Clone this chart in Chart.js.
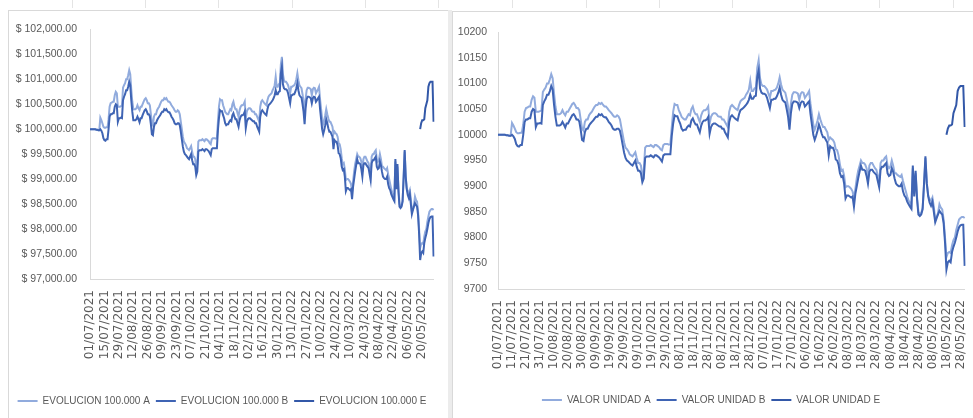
<!DOCTYPE html>
<html>
<head>
<meta charset="utf-8">
<script src="https://cdn.jsdelivr.net/npm/chart.js@4.4.0/dist/chart.umd.min.js"></script>
<style>
html, body { margin: 0; padding: 0; background: #fff; width: 973px; height: 418px; overflow: hidden; position: relative; }
.cell { position: absolute; top: 0; width: 1px; height: 8px; background: #e4e4e4; }
.box { position: absolute; border: 1px solid #d9d9d9; background: #fff; box-sizing: border-box; }
.shade { position: absolute; left: 448px; top: 10px; width: 4px; height: 408px; background: #ececec; }
canvas { position: absolute; }
</style>
</head>
<body>
<div id="cells"></div>
<div class="box" style="left:8px;top:10px;width:441px;height:420px"></div>
<div class="shade"></div>
<div class="box" style="left:452px;top:11px;width:540px;height:420px"></div>
<canvas id="leftChart" width="440" height="408" style="left:8px;top:10px"></canvas>
<canvas id="rightChart" width="534" height="407" style="left:452px;top:11px"></canvas>
<script>
// Daily dates 01/07/2021 .. 31/05/2022 (one day missing in early April in the source)
const startDate = new Date(2021, 6, 1);
const endDate = new Date(2022, 4, 31);
const missingDate = '02/04/2022';

// unit value, fund A (light)
const valorUnidadA = [
  10000,10000,10000,10000,10000,10000,9999,9999,9998,9998,
  10023,10018,10012,10005,10003,10003,10004,10004,10020,10045,
  10052,10053,10055,10055,10068,10075,10072,10045,10045,10045,
  10046,10047,10083,10088,10092,10100,10100,10108,10118,10110,
  10080,10055,10040,10040,10040,10042,10048,10042,10038,10045,
  10045,10050,10055,10060,10062,10058,10052,10052,10048,10030,
  10012,10008,10025,10030,10030,10038,10042,10045,10050,10055,
  10058,10058,10062,10060,10062,10058,10055,10055,10052,10048,
  10045,10042,10038,10035,10035,10038,10036,10030,10015,10000,
  9985,9975,9972,9968,9962,9960,9958,9962,9966,9955,
  9945,9945,9940,9920,9930,9975,9978,9978,9978,9980,
  9978,9976,9980,9980,9978,9976,9972,9970,9980,9982,
  9982,9982,9981,9982,10015,10045,10060,10058,10058,10048,
  10042,10035,10032,10030,10030,10035,10040,10038,10050,10055,
  10045,10040,10040,10032,10025,10038,10045,10048,10048,10050,
  10055,10022,10035,10040,10042,10042,10040,10036,10035,10035,
  10030,10030,10025,10020,10015,10045,10055,10058,10055,10052,
  10050,10048,10058,10065,10068,10070,10072,10078,10082,10088,
  10105,10085,10085,10090,10092,10130,10145,10110,10098,10095,
  10095,10092,10088,10080,10072,10085,10085,10087,10088,10092,
  10100,10112,10098,10088,10085,10082,10070,10055,10030,10060,
  10078,10083,10083,10082,10080,10068,10080,10083,10082,10072,
  10076,10080,10085,10060,10040,10020,10010,10018,10028,10040,
  10030,10022,10015,10015,10010,10005,9990,9995,9992,9990,
  9985,9972,9970,9960,9942,9930,9932,9920,9898,9900,
  9900,9898,9895,9890,9875,9895,9915,9930,9940,9950,
  9945,9945,9942,9935,9915,9940,9945,9945,9940,9935,
  9932,9920,9908,9945,9950,9950,9955,9958,9940,9935,
  9938,9950,9940,9925,9925,9922,9920,9918,9922,9910,
  9900,9890,9880,9872,9868,9862,9935,9885,9925,9880,
  9850,9845,9848,9858,9900,9955,9905,9882,9875,9872,
  9878,9860,9835,9840,9848,9865,9858,9855,9835,9800,
  9762,9770,9772,9770,9785,9795,9800,9815,9825,9835,
  9838,9840,9840,9838
];

// unit value, fund B (dark)
const valorUnidadB = [
  10000,10000,10000,10000,10000,10000,9999,9999,9998,9998,
  10000,9997,9992,9982,9978,9977,9980,9980,10000,10025,
  10030,10030,10032,10032,10045,10050,10048,10015,10022,10022,
  10023,10022,10058,10065,10070,10078,10078,10085,10095,10088,
  10058,10035,10018,10018,10018,10020,10025,10020,10014,10022,
  10022,10028,10033,10038,10040,10036,10030,10030,10026,10010,
  9990,9988,10005,10012,10012,10018,10022,10025,10028,10032,
  10035,10035,10040,10038,10040,10036,10034,10034,10030,10025,
  10022,10018,10012,10010,10010,10012,10012,10008,9995,9980,
  9965,9955,9950,9948,9945,9942,9940,9945,9950,9938,
  9930,9930,9925,9908,9915,9955,9958,9958,9958,9960,
  9958,9956,9960,9960,9958,9956,9952,9948,9960,9962,
  9962,9962,9962,9962,9998,10022,10038,10036,10036,10028,
  10022,10012,10008,10010,10010,10015,10018,10016,10028,10032,
  10025,10020,10020,10012,10005,10018,10025,10028,10028,10030,
  10035,10002,10015,10020,10022,10022,10020,10018,10016,10016,
  10012,10012,10005,10000,9995,10025,10035,10038,10035,10032,
  10030,10028,10040,10048,10050,10052,10055,10058,10062,10068,
  10078,10070,10070,10075,10076,10112,10125,10090,10082,10080,
  10080,10078,10072,10062,10052,10068,10068,10070,10070,10075,
  10082,10092,10078,10068,10065,10063,10050,10035,10010,10042,
  10060,10065,10065,10064,10062,10052,10062,10065,10064,10055,
  10058,10062,10065,10040,10020,10000,9990,9998,10008,10020,
  10012,10002,9995,9995,9990,9985,9960,9978,9975,9975,
  9968,9952,9950,9942,9925,9918,9920,9905,9876,9882,
  9882,9880,9878,9880,9860,9885,9900,9915,9928,9940,
  9932,9932,9930,9920,9905,9928,9932,9932,9928,9925,
  9922,9910,9898,9932,9938,9938,9942,9945,9925,9920,
  9922,9935,9928,9915,9905,9902,9900,9900,9905,9890,
  9882,9878,9870,9865,9860,9856,9940,9880,9930,9875,
  9845,9842,9845,9855,9905,9958,9905,9880,9868,9862,
  9870,9850,9830,9838,9845,9852,9848,9845,9828,9790,
  9738,9752,9755,9752,9772,9782,9790,9800,9812,9820,
  9824,9825,9825,9745
];

// unit value, fund E (starts 18/05/2022)
const eStartIndex = 320;
const valorUnidadETail = [10000,10012,10018,10018,10020,10042,10050,10058,10085,10092,10095,10095,10095,10015];

const seriesNamesLeft = ['EVOLUCION 100.000 A', 'EVOLUCION 100.000 B', 'EVOLUCION 100.000 E'];
const seriesNamesRight = ['VALOR UNIDAD A', 'VALOR UNIDAD B', 'VALOR UNIDAD E'];
const seriesColors = ['#91abdd', '#3f64b4', '#3358a8'];

// build category labels
const fechas = [];
for (let d = new Date(startDate); d <= endDate; d.setDate(d.getDate() + 1)) {
  const s = String(d.getDate()).padStart(2, '0') + '/' + String(d.getMonth() + 1).padStart(2, '0') + '/' + d.getFullYear();
  if (s !== missingDate) fechas.push(s);
}

const valorUnidadE = new Array(eStartIndex).fill(null).concat(valorUnidadETail);

// 100.000 invested at a unit value of 10.000 -> value x 10
const evolucionA = valorUnidadA.map(v => v * 10);
const evolucionB = valorUnidadB.map(v => v * 10);
const evolucionE = valorUnidadE.map(v => v === null ? null : v * 10);

const grey = '#595959';
const axisGrey = '#d9d9d9';
const sans = "'Liberation Sans', Arial, sans-serif";

function makeDatasets(names, series){
  return series.map((data, i) => ({
    label: names[i],
    data: data,
    borderColor: seriesColors[i],
    backgroundColor: seriesColors[i],
    borderWidth: 2,
    pointRadius: 0,
    tension: 0,
    spanGaps: false,
    order: 2 - i
  }));
}

function makeOptions(cfg){
  return {
    responsive: false,
    animation: false,
    events: [],
    layout: { padding: { top: cfg.padTop, right: cfg.padRight, bottom: cfg.padBottom, left: 0 } },
    plugins: {
      tooltip: { enabled: false },
      legend: {
        position: 'bottom',
        labels: {
          usePointStyle: true,
          pointStyle: 'line',
          pointStyleWidth: 20,
          padding: 6,
          color: grey,
          font: { family: sans, size: 10 },
          sort: (a, b) => a.datasetIndex - b.datasetIndex
        }
      }
    },
    scales: {
      x: {
        offset: false,
        grid: { display: false, drawTicks: false },
        border: { display: true, color: axisGrey, width: 1 },
        ticks: {
          autoSkip: false,
          minRotation: 90,
          maxRotation: 90,
          padding: 11,
          color: grey,
          font: { family: 'DejaVu Sans', size: 12 },
          callback: function(val, idx){ return idx % cfg.every === 0 ? this.getLabelForValue(val) : null; }
        },
        afterFit: s => { s.height = cfg.xHeight; }
      },
      y: {
        min: cfg.min,
        max: cfg.max,
        grid: { display: false, drawTicks: false },
        border: { display: true, color: axisGrey, width: 1 },
        ticks: {
          stepSize: cfg.step,
          padding: cfg.yPad,
          color: grey,
          font: { family: sans, size: 10.5 },
          callback: cfg.fmt
        },
        afterFit: s => { s.width = cfg.yWidth; }
      }
    }
  };
}

new Chart(document.getElementById('leftChart').getContext('2d'), {
  type: 'line',
  data: { labels: fechas, datasets: makeDatasets(seriesNamesLeft, [evolucionA, evolucionB, evolucionE]) },
  options: makeOptions({
    padTop: 17, padRight: 12, padBottom: 2, xHeight: 111, yWidth: 82, yPad: 13,
    min: 97000, max: 102000, step: 500, every: 14,
    fmt: v => '$ ' + Number(v).toLocaleString('en-US', { minimumFractionDigits: 2, maximumFractionDigits: 2 })
  })
});

new Chart(document.getElementById('rightChart').getContext('2d'), {
  type: 'line',
  data: { labels: fechas, datasets: makeDatasets(seriesNamesRight, [valorUnidadA, valorUnidadB, valorUnidadE]) },
  options: makeOptions({
    padTop: 21, padRight: 16, padBottom: 3, xHeight: 100, yWidth: 46, yPad: 11,
    min: 9700, max: 10200, step: 50, every: 10,
    fmt: v => String(v)
  })
});

// spreadsheet cell separators above the charts
const cellXs = [72, 145, 218, 292, 365, 438, 512, 586, 659, 732, 806, 879, 953];
const cells = document.getElementById('cells');
cellXs.forEach(x => {
  const c = document.createElement('div');
  c.className = 'cell';
  c.style.left = x + 'px';
  cells.appendChild(c);
});
</script>
</body>
</html>
